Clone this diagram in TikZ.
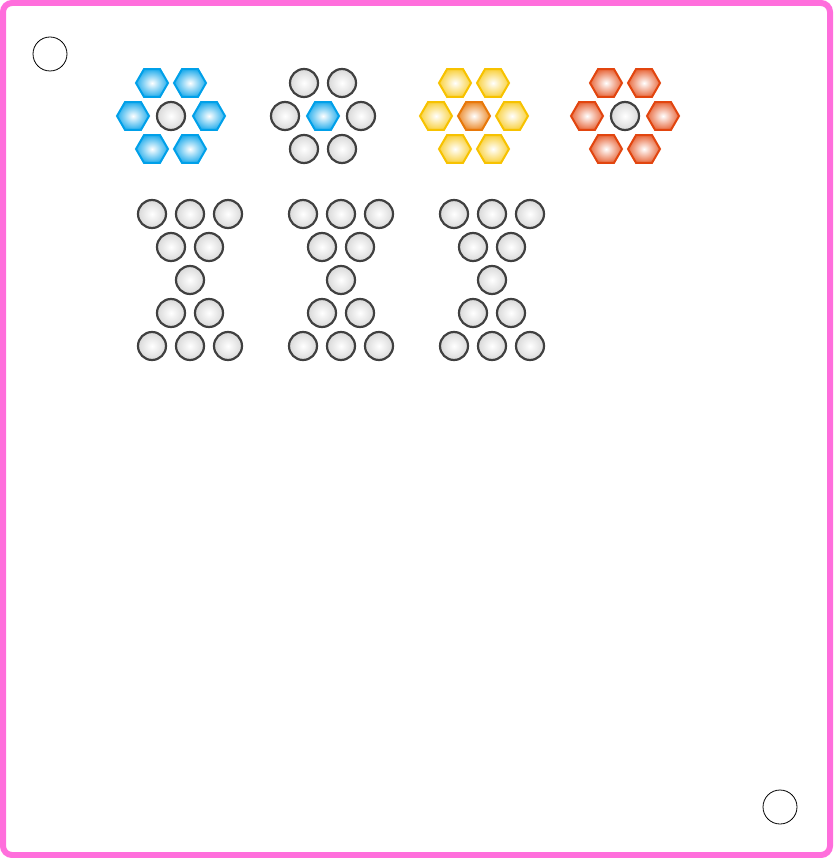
\documentclass[tikz,border=0pt]{standalone}
\usetikzlibrary{shapes.geometric}
\definecolor{framepink}{HTML}{FF6EDC}
\definecolor{ballrim}{HTML}{404040}
\definecolor{hexblue}{HTML}{00A0E9}
\definecolor{hexyellow}{HTML}{F7C200}
\definecolor{hexorange}{HTML}{E8780A}
\definecolor{hexred}{HTML}{E2450F}
\tikzset{
  ball/.style={draw=ballrim,circle,line width=2.2pt,minimum size=28pt,inner sep=0pt,
    inner color=white,outer color=gray!30},
  hexa/.style={regular polygon,regular polygon sides=6,minimum size=32pt,inner sep=0pt,line width=2pt},
  blue hex/.style={hexa,draw=hexblue,inner color=white,outer color=hexblue!85},
  yellow hex/.style={hexa,draw=hexyellow,inner color=white,outer color=hexyellow!75},
  orange hex/.style={hexa,draw=hexorange,inner color=white,outer color=hexorange!85},
  red hex/.style={hexa,draw=hexred,inner color=white,outer color=hexred!80},
  mark ring/.style={draw,circle,line width=0.8pt,minimum size=34pt,inner sep=0pt}
}
\begin{document}
\begin{tikzpicture}[x=1pt,y=-1pt]
\useasboundingbox (0,0) rectangle (833,858);
\draw[framepink,line width=6pt,rounded corners=9pt] (3,3) rectangle (830,855);
\node[mark ring] (m1) at (50,54) {};
\node[mark ring] (m2) at (780,807) {};
% first row: blue flower
\node[blue hex] (a1) at (152,83) {};
\node[blue hex] (a2) at (190,83) {};
\node[blue hex] (a3) at (133,116) {};
\node[ball] (a4) at (171,116) {};
\node[blue hex] (a5) at (209,116) {};
\node[blue hex] (a6) at (152,149) {};
\node[blue hex] (a7) at (190,149) {};
% balls round a blue hex
\node[ball] (b1) at (304,83) {};
\node[ball] (b2) at (342,83) {};
\node[ball] (b3) at (285,116) {};
\node[blue hex] (b4) at (323,116) {};
\node[ball] (b5) at (361,116) {};
\node[ball] (b6) at (304,149) {};
\node[ball] (b7) at (342,149) {};
% yellow flower
\node[yellow hex] (c1) at (455,83) {};
\node[yellow hex] (c2) at (493,83) {};
\node[yellow hex] (c3) at (436,116) {};
\node[orange hex] (c4) at (474,116) {};
\node[yellow hex] (c5) at (512,116) {};
\node[yellow hex] (c6) at (455,149) {};
\node[yellow hex] (c7) at (493,149) {};
% red flower
\node[red hex] (d1) at (606,83) {};
\node[red hex] (d2) at (644,83) {};
\node[red hex] (d3) at (587,116) {};
\node[ball] (d4) at (625,116) {};
\node[red hex] (d5) at (663,116) {};
\node[red hex] (d6) at (606,149) {};
\node[red hex] (d7) at (644,149) {};
% hourglasses
\foreach \g/\x in {h1/190,h2/341,h3/492}{
  \node[ball] (\g a) at (\x-38,214) {};
  \node[ball] (\g b) at (\x,214) {};
  \node[ball] (\g c) at (\x+38,214) {};
  \node[ball] (\g d) at (\x-19,247) {};
  \node[ball] (\g e) at (\x+19,247) {};
  \node[ball] (\g f) at (\x,280) {};
  \node[ball] (\g g) at (\x-19,313) {};
  \node[ball] (\g h) at (\x+19,313) {};
  \node[ball] (\g i) at (\x-38,346) {};
  \node[ball] (\g j) at (\x,346) {};
  \node[ball] (\g k) at (\x+38,346) {};
}
\end{tikzpicture}
\end{document}
